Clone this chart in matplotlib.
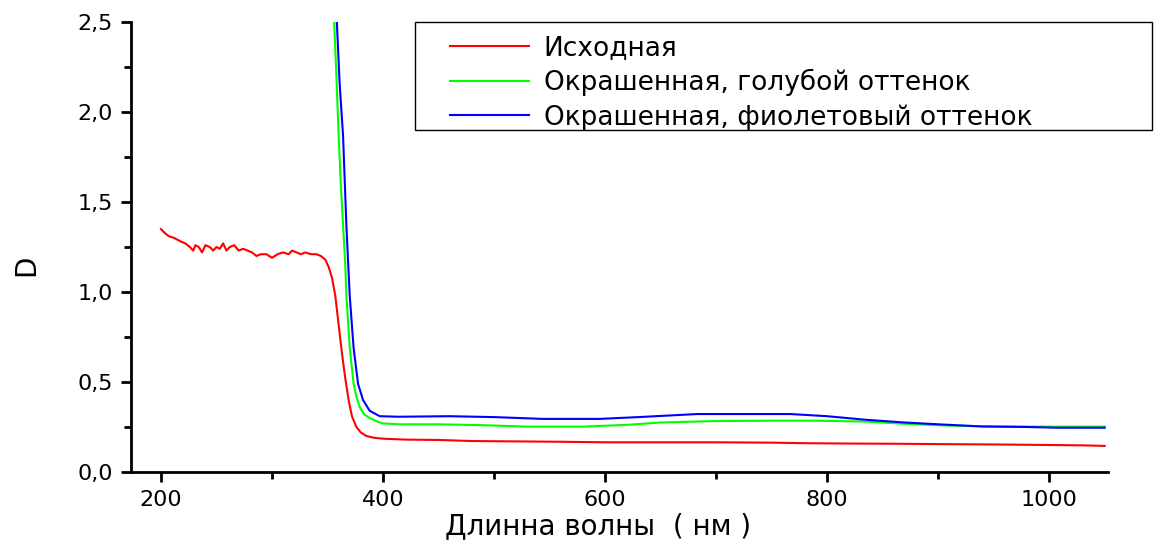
import matplotlib
matplotlib.use('Agg')
import matplotlib.pyplot as plt
from matplotlib.patches import Rectangle
from matplotlib.ticker import MultipleLocator, FuncFormatter

# исходная
x_red = [200, 203, 207, 212, 218, 222, 226, 229, 231, 234, 237, 240, 244, 247, 250,
         253, 256, 259, 262, 266, 270, 274, 278, 282, 286, 290, 295, 300, 305, 310,
         315, 318, 322, 326, 330, 335, 340, 344, 348, 351, 354, 357, 360, 363, 366,
         369, 372, 376, 380, 385, 392, 400, 420, 450, 480, 520, 560, 600, 650, 700,
         750, 780, 820, 860, 900, 950, 1000, 1030, 1050]
d_red = [1.35, 1.33, 1.31, 1.30, 1.28, 1.27, 1.25, 1.23, 1.26, 1.25, 1.22, 1.26, 1.25, 1.23, 1.25,
         1.24, 1.27, 1.23, 1.25, 1.26, 1.23, 1.24, 1.23, 1.22, 1.20, 1.21, 1.21, 1.19, 1.21, 1.22,
         1.21, 1.23, 1.22, 1.21, 1.22, 1.21, 1.21, 1.20, 1.18, 1.14, 1.08, 0.98, 0.82, 0.66, 0.52,
         0.40, 0.31, 0.25, 0.22, 0.20, 0.19, 0.185, 0.18, 0.178, 0.172, 0.17, 0.168, 0.165, 0.165, 0.165,
         0.163, 0.16, 0.158, 0.157, 0.155, 0.153, 0.15, 0.148, 0.145]

# голубой оттенок
x_green = [350, 356, 358, 360, 362, 364, 366, 367, 370, 373.5, 376, 379, 383, 388, 395,
           400, 414, 450, 490, 530, 580, 620, 650, 700, 750, 790, 835, 870, 900, 940,
           1000, 1050]
d_green = [3.0, 2.5, 2.2, 1.87, 1.6, 1.37, 1.15, 0.98, 0.69, 0.49, 0.42, 0.36, 0.32, 0.30, 0.28,
           0.27, 0.265, 0.265, 0.26, 0.252, 0.252, 0.262, 0.275, 0.283, 0.285, 0.285, 0.28, 0.268, 0.26, 0.253,
           0.252, 0.252]

# фиолетовый оттенок
x_blue = [352, 358.4, 361, 364, 367, 370, 373.5, 377.5, 382, 388, 397, 414, 460, 500, 544,
          595, 630, 683, 767, 800, 835, 870, 900, 940, 980, 1007, 1050]
d_blue = [3.0, 2.5, 2.15, 1.87, 1.37, 0.98, 0.69, 0.49, 0.40, 0.34, 0.31, 0.307, 0.31, 0.305, 0.295,
          0.295, 0.305, 0.322, 0.322, 0.31, 0.29, 0.275, 0.265, 0.253, 0.25, 0.246, 0.246]

labels = ['Исходная', 'Окрашенная, голубой оттенок', 'Окрашенная, фиолетовый оттенок']

plt.rcParams['font.family'] = ['DejaVu Sans']

fig = plt.figure(figsize=(11.55, 5.47), dpi=100)
ax = fig.add_axes([131/1155, 1 - 472/547, (1108 - 131)/1155, (472 - 22)/547])

ax.plot(x_red, d_red, color='#ff0000', lw=1.5, label=labels[0])
ax.plot(x_green, d_green, color='#00ff00', lw=1.5, label=labels[1])
ax.plot(x_blue, d_blue, color='#0000ff', lw=1.5, label=labels[2])

ax.set_xlim(173, 1053)
ax.set_ylim(0, 2.5)

ax.xaxis.set_major_locator(MultipleLocator(200))
ax.xaxis.set_minor_locator(MultipleLocator(100))
ax.yaxis.set_major_locator(MultipleLocator(0.5))
ax.yaxis.set_minor_locator(MultipleLocator(0.25))
ax.yaxis.set_major_formatter(FuncFormatter(lambda v, p: f'{v:.1f}'.replace('.', ',')))

ax.spines['top'].set_visible(False)
ax.spines['right'].set_visible(False)
ax.spines['left'].set_linewidth(2)
ax.spines['bottom'].set_linewidth(2)
ax.tick_params(which='major', direction='out', length=7, width=2, labelsize=16, pad=6)
ax.tick_params(which='minor', direction='out', length=5, width=2)

ax.set_xlabel('Длинна волны  ( нм )', fontsize=20)
ax.xaxis.set_label_coords(0.478, -0.09)
ax.set_ylabel('D', fontsize=20)
ax.yaxis.set_label_coords(-0.093, 0.46)

# рамка легенды
fig.patches.append(Rectangle((415/1155, 1 - 130/547), (1152 - 415)/1155, (130 - 22)/547,
                             transform=fig.transFigure, fill=False, edgecolor='black',
                             lw=1.0, zorder=5))
leg = ax.legend(loc='upper left', bbox_to_anchor=(450/1155, 1 - 35/547),
                bbox_transform=fig.transFigure, fontsize=19, frameon=False,
                handlelength=3.0, labelspacing=0.3, borderpad=0,
                handletextpad=0.55, borderaxespad=0)

fig.savefig('out.png', dpi=100)
